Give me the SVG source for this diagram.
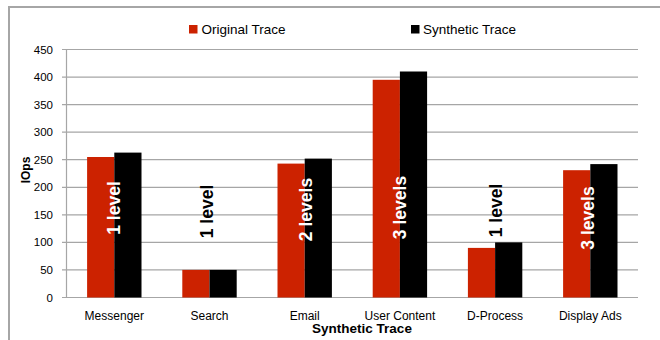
<svg xmlns="http://www.w3.org/2000/svg" width="660" height="340" viewBox="0 0 660 340">
<style>
text{font-family:"Liberation Sans",Arial,sans-serif;fill:#000}
.grid{stroke:#a6a6a6;stroke-width:1.2}
.tick{font-size:11.5px;text-anchor:end;dominant-baseline:central}
.cat{font-size:12px;text-anchor:middle}
.leg{font-size:13.5px}
.red{fill:#cc2200}
.blk{fill:#000}
.bl{font-size:17.5px;font-weight:bold;text-anchor:middle;dominant-baseline:central}
.w{fill:#fff}
</style>
<rect width="660" height="340" fill="#fff"/>
<path d="M9 345V7H665" fill="none" stroke="#a6a6a6" stroke-width="2"/>
<g id="grid">
<path class="grid" d="M62 49.5H638M62 77.1H638M62 104.6H638M62 132.2H638M62 159.7H638M62 187.3H638M62 214.8H638M62 242.4H638M62 269.9H638M62 297.5H638M66.5 49.5V297.5"/>
</g>
<g id="yticks">
<text class="tick" x="53" y="49.5">450</text>
<text class="tick" x="53" y="77.1">400</text>
<text class="tick" x="53" y="104.6">350</text>
<text class="tick" x="53" y="132.2">300</text>
<text class="tick" x="53" y="159.7">250</text>
<text class="tick" x="53" y="187.3">200</text>
<text class="tick" x="53" y="214.8">150</text>
<text class="tick" x="53" y="242.4">100</text>
<text class="tick" x="53" y="269.9">50</text>
<text class="tick" x="53" y="297.5">0</text>
</g>
<g id="legend">
<rect class="red" x="189" y="25" width="8.5" height="8.5"/>
<text class="leg" x="201.5" y="34">Original Trace</text>
<rect class="blk" x="411" y="25" width="8.5" height="8.5"/>
<text class="leg" x="423" y="34">Synthetic Trace</text>
</g>
<g id="messenger">
<rect class="red" x="87.1" y="157" width="27.2" height="140.5"/>
<rect class="blk" x="114.3" y="152.6" width="27.2" height="144.9"/>
<text class="bl w" transform="translate(114.3,208) rotate(-90)">1 level</text>
<text class="cat" x="114.3" y="320">Messenger</text>
</g>
<g id="search">
<rect class="red" x="182.3" y="269.9" width="27.2" height="27.6"/>
<rect class="blk" x="209.5" y="269.9" width="27.2" height="27.6"/>
<text class="bl" transform="translate(206.5,211.5) rotate(-90)">1 level</text>
<text class="cat" x="209.5" y="320">Search</text>
</g>
<g id="email">
<rect class="red" x="277.5" y="163.6" width="27.2" height="133.9"/>
<rect class="blk" x="304.7" y="158.6" width="27.2" height="138.9"/>
<text class="bl w" transform="translate(305.5,209.5) rotate(-90)">2 levels</text>
<text class="cat" x="304.7" y="320">Email</text>
</g>
<g id="usercontent">
<rect class="red" x="372.7" y="79.8" width="27.2" height="217.7"/>
<rect class="blk" x="399.9" y="71.5" width="27.2" height="226"/>
<text class="bl w" transform="translate(399.5,207.5) rotate(-90)">3 levels</text>
<text class="cat" x="399.9" y="320">User Content</text>
</g>
<g id="dprocess">
<rect class="red" x="467.9" y="247.9" width="27.2" height="49.6"/>
<rect class="blk" x="495.1" y="242.4" width="27.2" height="55.1"/>
<text class="bl" transform="translate(495.5,210.5) rotate(-90)">1 level</text>
<text class="cat" x="495.1" y="320">D-Process</text>
</g>
<g id="displayads">
<rect class="red" x="563.1" y="170.2" width="27.2" height="127.3"/>
<rect class="blk" x="590.3" y="164.1" width="27.2" height="133.4"/>
<text class="bl w" transform="translate(587.5,218) rotate(-90)">3 levels</text>
<text class="cat" x="590.3" y="320">Display Ads</text>
</g>
<g id="axes-labels">
<text x="362" y="333" font-size="13.5" font-weight="bold" text-anchor="middle">Synthetic Trace</text>
<text transform="translate(25.5,170) rotate(-90)" font-size="12" font-weight="bold" text-anchor="middle" dominant-baseline="central">IOps</text>
</g>
</svg>
